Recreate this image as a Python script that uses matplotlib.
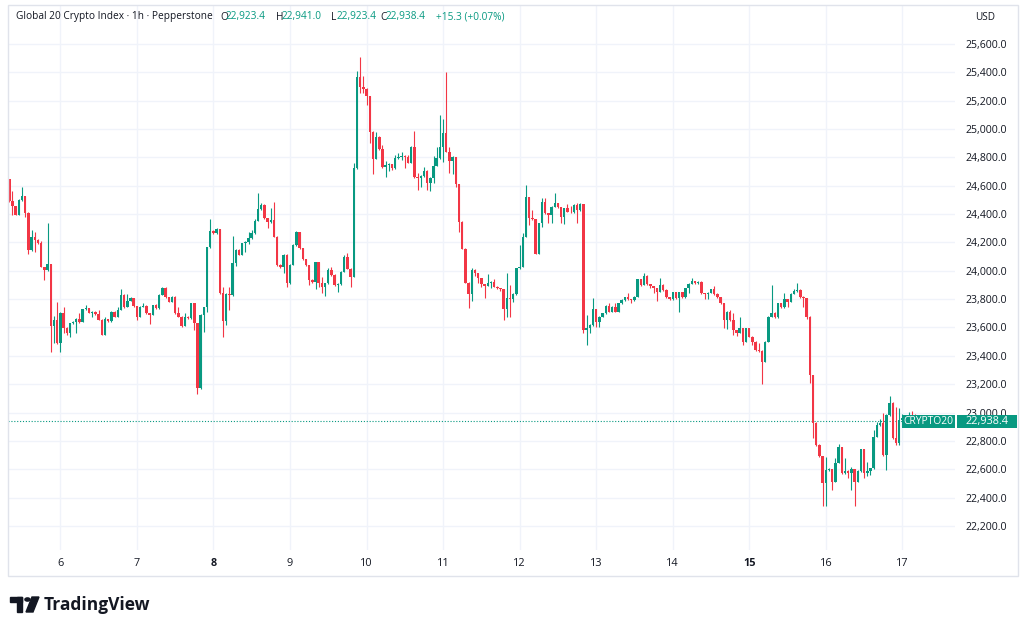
import matplotlib
matplotlib.use("Agg")
from matplotlib import pyplot as plt
from matplotlib.patches import Rectangle, Circle, Polygon
import numpy as np

# hourly candles, Jan 5 08:00 -> Jan 17 05:00
first_open = 24645.0
start_hour = 8

close = [
    24490, 24460, 24395, 24500, 24525, 24410, 24145, 24235, 24215, 24198, 24030, 24005,
    24045, 23610, 23655, 23490, 23705, 23595, 23560, 23630, 23640, 23662, 23640, 23728,
    23735, 23705, 23712, 23695, 23655, 23547, 23660, 23646, 23712, 23677, 23724, 23829,
    23747, 23787, 23806, 23750, 23677, 23747, 23752, 23700, 23688, 23759, 23735, 23829,
    23876, 23813, 23782, 23818, 23700, 23677, 23611, 23677, 23665, 23771, 23630, 23171,
    23688, 23742, 24166, 24283, 24264, 24293, 23841, 23648, 23837, 23829, 24053, 24147,
    24112, 24194, 24206, 24229, 24264, 24354, 24434, 24464, 24370, 24342, 24358, 24241,
    24041, 24029, 24112, 23912, 24041, 24182, 24276, 24159, 24081, 24041, 23935, 23924,
    24060, 23912, 23884, 23912, 24002, 23971, 23901, 23905, 23990, 24096, 24015, 23959,
    24723, 25370, 25295, 25285, 25234, 24982, 24787, 24942, 24857, 24730, 24747, 24752,
    24725, 24794, 24806, 24810, 24801, 24763, 24876, 24665, 24653, 24669, 24707, 24622,
    24653, 24742, 24794, 24876, 24970, 24841, 24777, 24800, 24613, 24347, 24155, 23917,
    23836, 24006, 23982, 23947, 23907, 23893, 23916, 23923, 23888, 23876, 23869, 23728,
    23806, 23800, 23836, 24017, 24029, 24241, 24518, 24370, 24363, 24119, 24335, 24483,
    24405, 24394, 24452, 24476, 24448, 24382, 24441, 24417, 24412, 24464, 24429, 24471,
    23582, 23594, 23618, 23728, 23641, 23677, 23700, 23752, 23712, 23747, 23712, 23771,
    23794, 23813, 23799, 23794, 23817, 23940, 23900, 23963, 23907, 23893, 23876, 23853,
    23900, 23864, 23813, 23799, 23848, 23806, 23848, 23813, 23876, 23907, 23930, 23911,
    23923, 23841, 23836, 23846, 23869, 23836, 23813, 23770, 23653, 23712, 23653, 23582,
    23563, 23594, 23500, 23594, 23535, 23500, 23441, 23437, 23359, 23500, 23676, 23705,
    23672, 23770, 23743, 23799, 23783, 23837, 23860, 23865, 23813, 23806, 23677, 23265,
    22929, 22772, 22690, 22506, 22595, 22600, 22513, 22647, 22755, 22572, 22590, 22572,
    22600, 22513, 22588, 22741, 22571, 22590, 22607, 22830, 22912, 22924, 22701, 22983,
    23065, 22818, 22783, 22947, 22960, 22930, 22985, 22960, 22923.4, 22938.4,
]
high = [
    24650, 24565, 24460, 24505, 24590, 24530, 24412, 24290, 24275, 24225, 24210, 24030,
    24340, 24048, 23680, 23780, 23710, 23745, 23600, 23635, 23648, 23665, 23700, 23730,
    23760, 23738, 23715, 23714, 23724, 23657, 23677, 23662, 23715, 23714, 23747, 23872,
    23836, 23836, 23818, 23811, 23752, 23750, 23771, 23755, 23702, 23762, 23765, 23835,
    23883, 23883, 23815, 23822, 23820, 23747, 23680, 23705, 23680, 23775, 23773, 23632,
    23692, 23746, 24170, 24363, 24288, 24300, 24296, 23883, 23842, 23883, 24246, 24152,
    24152, 24198, 24210, 24276, 24288, 24363, 24546, 24476, 24470, 24372, 24441, 24483,
    24243, 24045, 24118, 24115, 24045, 24186, 24280, 24269, 24162, 24084, 24044, 23941,
    24063, 24062, 23959, 23916, 24018, 24025, 23975, 23917, 23995, 24112, 24124, 24020,
    24759, 25412, 25511, 25375, 25290, 25229, 24985, 24982, 24951, 24888, 24777, 24762,
    24755, 24817, 24834, 24841, 24815, 24817, 24880, 24987, 24693, 24675, 24735, 24712,
    24660, 24810, 24871, 25100, 25069, 25405, 24876, 24810, 24806, 24615, 24350, 24162,
    23920, 24017, 24010, 23985, 23950, 23910, 23977, 23930, 23940, 23892, 23880, 23872,
    23982, 23900, 23840, 24020, 24182, 24264, 24605, 24522, 24429, 24366, 24340, 24511,
    24511, 24410, 24457, 24551, 24480, 24452, 24445, 24469, 24457, 24470, 24476, 24481,
    24434, 23688, 23622, 23806, 23732, 23682, 23705, 23757, 23771, 23752, 23771, 23776,
    23800, 23818, 23841, 23802, 23822, 23945, 23940, 23987, 23970, 23910, 23896, 23880,
    23947, 23905, 23868, 23815, 23852, 23852, 23852, 23852, 23880, 23912, 23947, 23930,
    23928, 23926, 23845, 23850, 23874, 23893, 23840, 23816, 23773, 23716, 23723, 23705,
    23585, 23672, 23598, 23598, 23598, 23540, 23505, 23488, 23440, 23505, 23680, 23900,
    23708, 23775, 23775, 23846, 23800, 23840, 23870, 23912, 23868, 23823, 23810, 23680,
    23268, 22932, 22775, 22693, 22689, 22605, 22603, 22682, 22779, 22760, 22678, 22595,
    22619, 22584, 22595, 22745, 22745, 22650, 22612, 22877, 22936, 22952, 23000, 22990,
    23117, 23077, 23041, 23030, 22990, 22975, 23005, 23010, 22990, 22941.0,
]
low = [
    24485, 24394, 24390, 24390, 24495, 24380, 24120, 24140, 24130, 24190, 24025, 23935,
    24000, 23430, 23490, 23485, 23430, 23560, 23545, 23535, 23625, 23560, 23635, 23638,
    23725, 23700, 23677, 23690, 23650, 23545, 23545, 23640, 23640, 23672, 23675, 23720,
    23740, 23745, 23785, 23745, 23650, 23675, 23745, 23695, 23625, 23685, 23730, 23730,
    23829, 23810, 23778, 23780, 23695, 23672, 23605, 23608, 23660, 23662, 23583, 23131,
    23168, 23571, 23712, 24160, 24258, 24262, 23835, 23536, 23618, 23724, 23825, 24034,
    24108, 24108, 24135, 24190, 24225, 24260, 24350, 24430, 24365, 24300, 24338, 24235,
    24035, 24020, 23982, 23888, 23908, 24038, 24178, 24155, 24077, 24037, 23900, 23912,
    23870, 23889, 23846, 23823, 23908, 23966, 23896, 23847, 23900, 23988, 24010, 23885,
    23955, 24720, 25252, 25252, 25170, 24900, 24683, 24794, 24853, 24723, 24660, 24705,
    24712, 24720, 24790, 24782, 24723, 24758, 24758, 24653, 24571, 24594, 24660, 24571,
    24564, 24622, 24738, 24790, 24770, 24835, 24693, 24683, 24594, 24277, 24155, 23912,
    23735, 23787, 23963, 23916, 23888, 23806, 23890, 23876, 23884, 23870, 23860, 23653,
    23677, 23677, 23782, 23829, 24010, 24025, 24238, 24323, 24358, 24115, 24115, 24307,
    24400, 24335, 24335, 24448, 24443, 24335, 24330, 24412, 24405, 24410, 24340, 24425,
    23559, 23477, 23559, 23612, 23606, 23606, 23672, 23695, 23708, 23719, 23708, 23708,
    23765, 23790, 23795, 23775, 23790, 23815, 23895, 23897, 23900, 23876, 23841, 23789,
    23850, 23860, 23808, 23794, 23795, 23800, 23712, 23808, 23810, 23841, 23905, 23906,
    23907, 23836, 23799, 23799, 23842, 23830, 23808, 23765, 23594, 23587, 23648, 23547,
    23540, 23560, 23476, 23496, 23530, 23476, 23436, 23430, 23201, 23359, 23495, 23672,
    23668, 23668, 23738, 23738, 23743, 23780, 23835, 23850, 23808, 23747, 23658, 23211,
    22819, 22765, 22685, 22337, 22337, 22584, 22450, 22577, 22643, 22566, 22565, 22537,
    22450, 22337, 22508, 22580, 22537, 22553, 22560, 22600, 22825, 22905, 22690, 22595,
    22978, 22810, 22771, 22771, 22900, 22920, 22925, 22950, 22915, 22923.4,
]

day_labels = ["6", "7", "8", "9", "10", "11", "12", "13", "14", "15", "16", "17"]
bold_days = ["8", "15"]
price_ticks = list(range(22200, 25601, 200))

title = "Global 20 Crypto Index \u00b7 1h \u00b7 Pepperstone"
ohlc_text = [("O", "22,923.4"), ("H", "22,941.0"), ("L", "22,923.4"), ("C", "22,938.4")]
change_text = "+15.3 (+0.07%)"
symbol = "CRYPTO20"
last_price = 22938.4

UP = "#089981"
DOWN = "#F23645"
TXT = "#131722"
GRID = "#f0f3fa"

plt.rcParams['font.family'] = ['Open Sans', 'DejaVu Sans']

close = np.array(close, dtype=float)
opens = np.concatenate([[first_open], close[:-1]])
high = np.maximum(np.array(high, dtype=float), np.maximum(opens, close))
low = np.minimum(np.array(low, dtype=float), np.minimum(opens, close))
idx = np.arange(len(close))
colors = np.where(close >= opens, UP, DOWN)

W, H = 1024, 630
fig = plt.figure(figsize=(W / 100, H / 100), dpi=100)
fig.patch.set_facecolor("white")


def fx(px):
    return px / W


def fy(py):
    return 1 - py / H


# plot area in pixels: x 8..955, y 5..550
ax = fig.add_axes([fx(8), fy(550), fx(955) - fx(8), fy(5) - fy(550)])
ax.set_xlim(-0.41, 296.5)
ax.set_ylim(22030, 25875)
for s in ax.spines.values():
    s.set_visible(False)

day_pos = [(24 - start_hour) + 24 * k for k in range(len(day_labels))]
ax.set_xticks(day_pos)
ax.set_xticklabels(day_labels)
for lab in ax.get_xticklabels():
    lab.set_fontweight("bold" if lab.get_text() in bold_days else "normal")
ax.set_yticks(price_ticks)
ax.set_yticklabels([f"{v:,.1f}" for v in price_ticks])
ax.yaxis.tick_right()
ax.tick_params(axis="y", length=0, pad=7.5, labelsize=7.6, labelcolor=TXT)
ax.tick_params(axis="x", length=0, pad=6, labelsize=7.8, labelcolor=TXT)
ax.grid(True, color=GRID, lw=1)
ax.set_axisbelow(True)

# candles
ax.vlines(idx, low, high, colors=colors, lw=0.8, zorder=2)
body_lo = np.minimum(opens, close)
body_h = np.maximum(np.abs(close - opens), 6)
ax.bar(idx, body_h, bottom=body_lo, width=0.76, color=colors, linewidth=0, zorder=3)

ax.axhline(last_price, color=UP, lw=0.8, ls=(0, (1, 1.6)), zorder=1)

# header
hs = 7.3
fig.text(fx(16), fy(17), title, fontsize=hs, color=TXT, va="center")
xs = [220, 276, 331, 380]
for (k, v), x in zip(ohlc_text, xs):
    fig.text(fx(x), fy(17), k, fontsize=hs, color=TXT, va="center")
    fig.text(fx(x + 6), fy(17), v, fontsize=hs, color=UP, va="center")
fig.text(fx(436), fy(17), change_text, fontsize=hs, color=UP, va="center")
fig.text(fx(975), fy(17), "USD", fontsize=7.2, color=TXT, va="center")

# last price labels
fig.add_artist(Rectangle((fx(902), fy(428)), fx(53), 13 / H, transform=fig.transFigure,
                         facecolor=UP, edgecolor="none", zorder=5))
fig.text(fx(928.5), fy(421.5), symbol, fontsize=7.4, color="white", ha="center", va="center", zorder=6)
fig.add_artist(Rectangle((fx(956.5), fy(428)), fx(60), 13 / H, transform=fig.transFigure,
                         facecolor=UP, edgecolor="none", zorder=5))
fig.text(fx(965), fy(421.5), f"{last_price:,.1f}", fontsize=7.8, color="white", va="center", zorder=6)

# outer border
fig.add_artist(Rectangle((fx(8), fy(576)), fx(1010), 571 / H, transform=fig.transFigure,
                         fill=False, edgecolor="#e0e3eb", lw=1, zorder=4))

# TradingView logo
k = "#131722"
fig.add_artist(Rectangle((fx(10), fy(602)), fx(12), 5 / H, transform=fig.transFigure, color=k))
fig.add_artist(Rectangle((fx(16.5), fy(612)), fx(5.5), 15 / H, transform=fig.transFigure, color=k))
fig.add_artist(Circle((fx(27.5), fy(599.5)), fx(2.6), transform=fig.transFigure, color=k))
fig.add_artist(Polygon([(fx(32), fy(597)), (fx(39), fy(597)), (fx(33), fy(612)), (fx(26), fy(612))],
                       closed=True, transform=fig.transFigure, color=k))
fig.text(fx(44), fy(604.5), "TradingView", fontsize=12.5, fontweight="bold", color=k, va="center")

fig.savefig("out.png", dpi=100, facecolor="white")
